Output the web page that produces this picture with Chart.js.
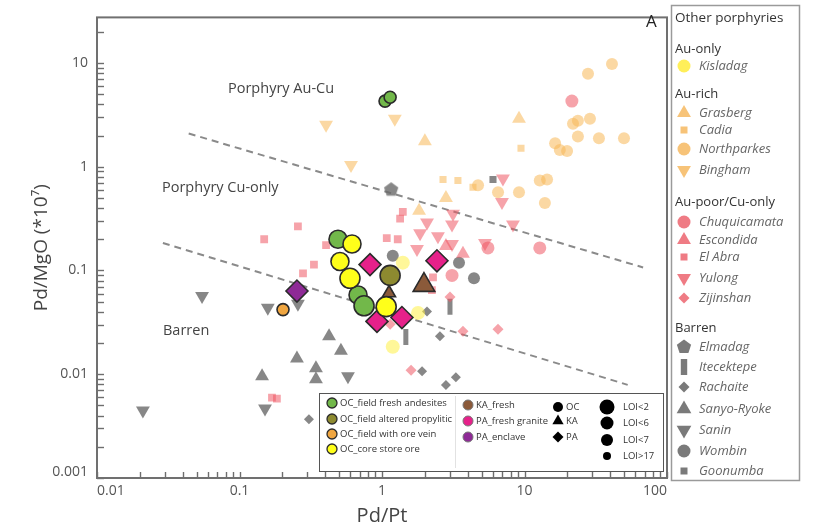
<!DOCTYPE html>
<html>
<head>
<meta charset="utf-8">
<script src="https://cdn.jsdelivr.net/npm/chart.js@4.4.0/dist/chart.umd.min.js"></script>
<style>
  html, body { margin: 0; padding: 0; background: #fff; }
  #wrap { width: 815px; height: 532px; }
</style>
</head>
<body>
<div id="wrap"><canvas id="chart" width="815" height="532"></canvas></div>
<script>
// axis tick labels
const xTickLabels = ['0.01', '0.1', '1', '10', '100'];
const yTickLabels = ['0.001', '0.01', '0.1', '1', '10'];

// this study: Pd/Pt (x), Pd/MgO*10^7 (y), LOI class
const ocFreshX = [1.05, 1.14, 0.491, 0.679, 0.748];
const ocFreshY = [4.29, 4.68, 0.200, 0.0581, 0.0457];
const ocFreshLoi = ['>17', '>17', '<6', '<6', '<2'];
const ocAlteredX = [1.14];
const ocAlteredY = [0.0897];
const ocAlteredLoi = ['<2'];
const ocVeinX = [0.202];
const ocVeinY = [0.042];
const ocVeinLoi = ['>17'];
const ocCoreX = [0.616, 0.507, 0.596, 1.07];
const ocCoreY = [0.180, 0.122, 0.0841, 0.0448];
const ocCoreLoi = ['<6', '<6', '<2', '<2'];
const kaFreshX = [1.97, 1.12];
const kaFreshY = [0.0722, 0.0607];
const kaFreshLoi = ['<2', '>17'];
const paGraniteX = [0.824, 2.43, 0.922, 1.38];
const paGraniteY = [0.114, 0.124, 0.0323, 0.0352];
const paGraniteLoi = ['<2', '<2', '<2', '<2'];
const paEnclaveX = [0.253];
const paEnclaveY = [0.0634];
const paEnclaveLoi = ['<2'];

// other porphyries
const kisladagX = [1.40, 1.79, 1.19];
const kisladagY = [0.119, 0.039, 0.0184];
const grasbergX = [2.0, 9.15, 2.81, 1.82];
const grasbergY = [1.76, 2.90, 0.50, 0.376];
const cadiaX = [9.45, 2.68, 3.41, 4.35];
const cadiaY = [1.51, 0.754, 0.738, 0.634];
const northparkesX = [27.9, 41.1, 21.9, 23.7, 28.8, 23.7, 33.3, 49.9, 16.4, 17.7, 19.9, 12.8, 14.4, 9.15, 6.52, 13.9, 4.72];
const northparkesY = [7.88, 9.79, 2.60, 2.77, 2.90, 1.96, 1.88, 1.88, 1.68, 1.45, 1.42, 0.738, 0.754, 0.569, 0.569, 0.448, 0.662];
const binghamX = [0.405, 0.606, 1.23];
const binghamY = [2.54, 1.04, 2.90];
const chuquiX = [21.5, 12.8, 5.54, 3.10];
const chuquiY = [4.29, 0.165, 0.165, 0.0897];
const escondidaX = [3.70, 2.81];
const escondidaY = [0.145, 0.172];
const elAbraX = [0.257, 0.149, 0.405, 0.279, 0.333, 1.40, 1.34, 1.08, 1.29, 2.28, 2.24, 0.169, 0.183];
const elAbraY = [0.266, 0.200, 0.176, 0.0937, 0.114, 0.368, 0.316, 0.205, 0.200, 0.0859, 0.0647, 0.00594, 0.00581];
const yulongX = [6.95, 8.30, 3.15, 3.10, 2.07, 1.85, 2.47, 5.28, 3.10, 1.76, 7.06];
const yulongY = [0.457, 0.278, 0.352, 0.278, 0.290, 0.228, 0.214, 0.184, 0.180, 0.161, 0.771];
const zijinshanX = [1.14, 3.70, 6.52, 1.60, 3.00];
const zijinshanY = [0.0303, 0.0260, 0.0272, 0.0109, 0.0556];

// barren
const elmadagX = [1.16];
const elmadagY = [0.607];
const itecektepeX = [3.00, 1.47];
const itecektepeY = [0.0448, 0.0228];
const rachaiteX = [0.307, 2.07, 2.55, 1.91, 2.81, 3.30];
const rachaiteY = [0.00368, 0.0402, 0.0233, 0.0107, 0.00787, 0.00937];
const sanyoX = [0.425, 0.515, 0.253, 0.344, 0.344, 0.144];
const sanyoY = [0.0233, 0.0168, 0.0142, 0.0114, 0.00897, 0.00958];
const saninX = [0.0546, 0.158, 0.257, 0.0210, 0.151, 0.577];
const saninY = [0.0569, 0.0438, 0.0478, 0.00448, 0.00468, 0.00958];
const wombinX = [1.19, 3.47, 4.42];
const wombinY = [0.139, 0.119, 0.0841];
const goonumbaX = [6.01];
const goonumbaY = [0.754];

// field boundaries
const upperLineX = [0.044, 68];
const upperLineY = [2.09, 0.107];
const lowerLineX = [0.029, 53];
const lowerLineY = [0.184, 0.0079];

const LOI_R = { '<2': 10, '<6': 9, '<7': 8, '>17': 6 };

const cKis = 'rgba(255,240,70,0.55)';
const cAu = 'rgba(248,184,88,0.55)';
const cPink = 'rgba(238,88,100,0.55)';
const cGray = 'rgba(105,105,105,0.8)';
const edge = '#2b2b2b';

function pts(xs, ys) { return xs.map((x, i) => ({ x: x, y: ys[i] })); }

function drawShape(ctx, shape, x, y, r) {
  ctx.beginPath();
  if (shape === 'circle') {
    ctx.arc(x, y, r, 0, Math.PI * 2);
  } else if (shape === 'triangle') {
    ctx.moveTo(x, y - r); ctx.lineTo(x + r * 0.866, y + r * 0.5); ctx.lineTo(x - r * 0.866, y + r * 0.5); ctx.closePath();
  } else if (shape === 'triangleDown') {
    ctx.moveTo(x, y + r); ctx.lineTo(x + r * 0.866, y - r * 0.5); ctx.lineTo(x - r * 0.866, y - r * 0.5); ctx.closePath();
  } else if (shape === 'square') {
    ctx.rect(x - r * 0.7, y - r * 0.7, r * 1.4, r * 1.4);
  } else if (shape === 'diamond') {
    ctx.moveTo(x, y - r); ctx.lineTo(x + r, y); ctx.lineTo(x, y + r); ctx.lineTo(x - r, y); ctx.closePath();
  } else if (shape === 'pentagon') {
    for (let i = 0; i < 5; i++) {
      const a = -Math.PI / 2 + i * 2 * Math.PI / 5;
      const px = x + r * Math.cos(a), py = y + r * Math.sin(a);
      if (i === 0) ctx.moveTo(px, py); else ctx.lineTo(px, py);
    }
    ctx.closePath();
  } else if (shape === 'bar') {
    ctx.rect(x - r * 0.4, y - r, r * 0.8, r * 2);
  }
}

// pentagon marker for Elmadag (no built-in style)
const pentagonImg = document.createElement('canvas');
pentagonImg.width = 16; pentagonImg.height = 16;
(function () {
  const c = pentagonImg.getContext('2d');
  c.fillStyle = cGray;
  drawShape(c, 'pentagon', 8, 8.5, 7.5);
  c.fill();
})();

function mainSet(label, xs, ys, loi, color, style, scale) {
  return {
    label: label, data: pts(xs, ys), order: 0,
    backgroundColor: color, borderColor: edge, borderWidth: 1.6,
    pointStyle: style,
    pointRadius: loi.map(l => LOI_R[l] * scale),
    pointHoverRadius: loi.map(l => LOI_R[l] * scale)
  };
}

function otherSet(label, xs, ys, color, style, r, rot) {
  return {
    label: label, data: pts(xs, ys), order: 1,
    backgroundColor: color, borderColor: color, borderWidth: 0,
    pointStyle: style, pointRadius: r, pointHoverRadius: r, rotation: rot || 0
  };
}

function boundary(xs, ys) {
  return {
    type: 'line', label: 'boundary', data: pts(xs, ys), order: 2,
    borderColor: '#8a8a8a', borderWidth: 2, borderDash: [7, 5],
    pointRadius: 0, showLine: true, fill: false
  };
}

const datasets = [
  mainSet('OC_core store ore', ocCoreX, ocCoreY, ocCoreLoi, '#ffff1a', 'circle', 1),
  mainSet('OC_field fresh andesites', ocFreshX, ocFreshY, ocFreshLoi, '#72b84a', 'circle', 1),
  mainSet('OC_field altered propylitic', ocAlteredX, ocAlteredY, ocAlteredLoi, '#8d8a30', 'circle', 1),
  mainSet('OC_field with ore vein', ocVeinX, ocVeinY, ocVeinLoi, '#f0a640', 'circle', 1),
  mainSet('KA_fresh', kaFreshX, kaFreshY, kaFreshLoi, '#8b5a3a', 'triangle', 1.25),
  mainSet('PA_fresh granite', paGraniteX, paGraniteY, paGraniteLoi, '#e6218a', 'rectRot', 1.1),
  mainSet('PA_enclave', paEnclaveX, paEnclaveY, paEnclaveLoi, '#8e2a96', 'rectRot', 1.1),

  otherSet('Kisladag', kisladagX, kisladagY, cKis, 'circle', 7),
  otherSet('Grasberg', grasbergX, grasbergY, cAu, 'triangle', 8),
  otherSet('Cadia', cadiaX, cadiaY, cAu, 'rect', 5),
  otherSet('Northparkes', northparkesX, northparkesY, cAu, 'circle', 6),
  otherSet('Bingham', binghamX, binghamY, cAu, 'triangle', 8, 180),
  otherSet('Chuquicamata', chuquiX, chuquiY, cPink, 'circle', 6.5),
  otherSet('Escondida', escondidaX, escondidaY, cPink, 'triangle', 8),
  otherSet('El Abra', elAbraX, elAbraY, cPink, 'rect', 5.5),
  otherSet('Yulong', yulongX, yulongY, cPink, 'triangle', 8, 180),
  otherSet('Zijinshan', zijinshanX, zijinshanY, cPink, 'rectRot', 5.5),
  otherSet('Elmadag', elmadagX, elmadagY, cGray, pentagonImg, 8),
  {
    label: 'Itecektepe', data: pts(itecektepeX, itecektepeY), order: 1,
    borderColor: cGray, backgroundColor: cGray, borderWidth: 5,
    pointStyle: 'line', rotation: 90, pointRadius: 8, pointHoverRadius: 8
  },
  otherSet('Rachaite', rachaiteX, rachaiteY, cGray, 'rectRot', 5),
  otherSet('Sanyo-Ryoke', sanyoX, sanyoY, cGray, 'triangle', 8),
  otherSet('Sanin', saninX, saninY, cGray, 'triangle', 8, 180),
  otherSet('Wombin', wombinX, wombinY, cGray, 'circle', 6),
  otherSet('Goonumba', goonumbaX, goonumbaY, cGray, 'rect', 5),

  boundary(upperLineX, upperLineY),
  boundary(lowerLineX, lowerLineY)
];

function isLogTick(v) {
  const m = v / Math.pow(10, Math.floor(Math.log10(v) + 1e-9));
  return Math.abs(m - Math.round(m)) < 1e-6;
}
function majorLabel(list, v) {
  return list.find(l => Math.abs(Math.log10(+l) - Math.log10(v)) < 1e-6) || '';
}

// inward tick marks, frame, annotation text
const framePlugin = {
  id: 'frame',
  beforeDatasetsDraw(chart) {
    const { ctx, chartArea: a, scales } = chart;
    ctx.save();
    ctx.strokeStyle = '#6e6e6e';
    ctx.lineWidth = 1.4;
    scales.x.ticks.forEach(t => {
      if (!isLogTick(t.value)) return;
      const px = Math.round(scales.x.getPixelForValue(t.value)) + 0.5;
      ctx.beginPath(); ctx.moveTo(px, a.bottom); ctx.lineTo(px, a.bottom - 6); ctx.stroke();
    });
    scales.y.ticks.forEach(t => {
      if (!isLogTick(t.value)) return;
      const py = Math.round(scales.y.getPixelForValue(t.value)) + 0.5;
      ctx.beginPath(); ctx.moveTo(a.left, py); ctx.lineTo(a.left + 7, py); ctx.stroke();
    });
    ctx.strokeStyle = '#707070';
    ctx.lineWidth = 2;
    ctx.strokeRect(a.left, a.top, a.right - a.left, a.bottom - a.top);

    // lowest y label sits just above the corner
    ctx.fillStyle = '#555';
    ctx.font = '14px "Open Sans"';
    ctx.textAlign = 'right';
    ctx.textBaseline = 'middle';
    ctx.fillText(yTickLabels[0], a.left - 9, a.bottom - 6);

    ctx.fillStyle = '#444';
    ctx.font = '14.5px "Open Sans"';
    ctx.textAlign = 'left';
    ctx.fillText('Porphyry Au-Cu', 228, 89);
    ctx.fillText('Porphyry Cu-only', 162, 188);
    ctx.fillText('Barren', 163, 331);
    ctx.font = '17px "Open Sans"';
    ctx.fillStyle = '#222';
    ctx.fillText('A', 646, 22);
    ctx.restore();
  },
  afterDraw(chart) {
    const ctx = chart.ctx;
    ctx.save();
    // inner legend (this study)
    ctx.fillStyle = '#fff';
    ctx.fillRect(319, 393, 344, 78);
    ctx.strokeStyle = '#555';
    ctx.lineWidth = 1;
    ctx.strokeRect(319.5, 393.5, 344, 78);
    ctx.strokeStyle = '#e2e2e2';
    ctx.beginPath(); ctx.moveTo(455.5, 396); ctx.lineTo(455.5, 468); ctx.stroke();

    ctx.font = '9.5px "Open Sans"';
    ctx.textBaseline = 'middle';
    ctx.textAlign = 'left';
    const col1 = [
      ['OC_field fresh andesites', '#72b84a', 403],
      ['OC_field altered propylitic', '#8d8a30', 419],
      ['OC_field with ore vein', '#f0a640', 434],
      ['OC_core store ore', '#ffff1a', 449]
    ];
    col1.forEach(([t, c, y]) => {
      ctx.fillStyle = c; ctx.strokeStyle = edge; ctx.lineWidth = 1.3;
      drawShape(ctx, 'circle', 332, y, 5); ctx.fill(); ctx.stroke();
      ctx.fillStyle = '#333';
      ctx.fillText(t, 340, y, 112);
    });
    const col2 = [
      ['KA_fresh', '#8b5a3a', 405],
      ['PA_fresh granite', '#e6218a', 421],
      ['PA_enclave', '#8e2a96', 437]
    ];
    col2.forEach(([t, c, y]) => {
      ctx.fillStyle = c; ctx.strokeStyle = '#777'; ctx.lineWidth = 1;
      drawShape(ctx, 'circle', 468, y, 5); ctx.fill(); ctx.stroke();
      ctx.fillStyle = '#333';
      ctx.fillText(t, 476, y, 72);
    });
    const col3 = [['OC', 'circle', 407, 5], ['KA', 'triangle', 421, 6.5], ['PA', 'diamond', 437, 5.5]];
    col3.forEach(([t, s, y, r]) => {
      ctx.fillStyle = '#000';
      drawShape(ctx, s, 558, y, r); ctx.fill();
      ctx.fillStyle = '#333';
      ctx.fillText(t, 566, y);
    });
    const col4 = [['LOI<2', 7.5, 407], ['LOI<6', 6.5, 423], ['LOI<7', 6, 440], ['LOI>17', 4, 456]];
    col4.forEach(([t, r, y]) => {
      ctx.fillStyle = '#000';
      drawShape(ctx, 'circle', 607, y, r); ctx.fill();
      ctx.fillStyle = '#333';
      ctx.fillText(t, 623, y);
    });

    // right legend (other porphyries)
    ctx.strokeStyle = '#9a9a9a';
    ctx.lineWidth = 1.5;
    ctx.strokeRect(671.5, 5.5, 128, 475);
    ctx.fillStyle = '#333';
    ctx.font = '13.5px "Open Sans"';
    ctx.fillText('Other porphyries', 675, 18, 122);
    ctx.font = '13px "Open Sans"';
    const heads = [['Au-only', 49], ['Au-rich', 94], ['Au-poor/Cu-only', 202], ['Barren', 328]];
    heads.forEach(([t, y]) => ctx.fillText(t, 675, y));
    const kisL = 'rgba(255,236,60,0.85)', auL = 'rgba(246,188,105,0.9)', pkL = 'rgba(236,100,110,0.85)', gyL = '#7a7a7a';
    const items = [
      ['Kisladag', 'circle', kisL, 66, 6.5],
      ['Grasberg', 'triangle', auL, 113, 8],
      ['Cadia', 'square', auL, 130, 5],
      ['Northparkes', 'circle', auL, 149, 6.5],
      ['Bingham', 'triangleDown', auL, 170, 8],
      ['Chuquicamata', 'circle', pkL, 222, 6.5],
      ['Escondida', 'triangle', pkL, 240, 8],
      ['El Abra', 'square', pkL, 257, 5],
      ['Yulong', 'triangleDown', pkL, 278, 8],
      ['Zijinshan', 'diamond', pkL, 298, 5.5],
      ['Elmadag', 'pentagon', gyL, 347, 7.5],
      ['Itecektepe', 'bar', gyL, 367, 8],
      ['Rachaite', 'diamond', gyL, 387, 5.5],
      ['Sanyo-Ryoke', 'triangle', gyL, 409, 8.5],
      ['Sanin', 'triangleDown', gyL, 430, 8.5],
      ['Wombin', 'circle', gyL, 451, 6.5],
      ['Goonumba', 'square', gyL, 471, 5]
    ];
    ctx.font = 'italic 13px "Open Sans"';
    items.forEach(([t, s, c, y, r]) => {
      ctx.fillStyle = c;
      drawShape(ctx, s, 684, y, r); ctx.fill();
      ctx.fillStyle = '#666';
      ctx.fillText(t, 699, y, 97);
    });
    ctx.restore();
  }
};

new Chart(document.getElementById('chart'), {
  type: 'scatter',
  data: { datasets: datasets },
  options: {
    responsive: false,
    animation: false,
    layout: { padding: { left: 0, right: 148, top: 8, bottom: 0 } },
    plugins: { legend: { display: false }, tooltip: { enabled: false } },
    scales: {
      x: {
        type: 'logarithmic', min: 0.01, max: 100,
        grid: { display: false, drawTicks: false },
        border: { display: false },
        ticks: {
          autoSkip: false, maxRotation: 0, padding: 5, color: '#555', align: 'inner',
          font: { family: 'Open Sans', size: 14 },
          callback: v => majorLabel(xTickLabels, v)
        },
        title: { display: true, text: 'Pd/Pt', color: '#444', font: { family: 'Open Sans', size: 20 }, padding: { top: 0, bottom: 4 } },
        afterFit: s => { s.height = 54; }
      },
      y: {
        type: 'logarithmic', min: 0.001, max: 27.5,
        grid: { display: false, drawTicks: false },
        border: { display: false },
        ticks: {
          autoSkip: false, padding: 9, color: '#555',
          font: { family: 'Open Sans', size: 14 },
          callback: v => (majorLabel(yTickLabels, v) === yTickLabels[0] ? '' : majorLabel(yTickLabels, v))
        },
        title: { display: true, text: 'Pd/MgO (*10\u2077)', color: '#444', font: { family: 'Open Sans', size: 19 }, padding: { top: 30, bottom: 0 } },
        afterFit: s => { s.width = 97; }
      }
    }
  },
  plugins: [framePlugin]
});
</script>
</body>
</html>
